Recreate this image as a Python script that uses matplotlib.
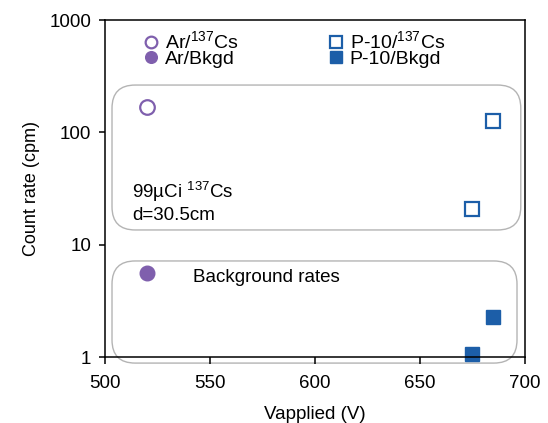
import numpy as np
import matplotlib
matplotlib.use("Agg")
import matplotlib.pyplot as plt
from matplotlib.patches import FancyBboxPatch

plt.rcParams.update({
    "font.family": "Liberation Sans",
    "mathtext.fontset": "custom",
    "mathtext.rm": "Liberation Sans",
    "mathtext.it": "Liberation Sans:italic",
})

# Daten
ar_cs_v = [520]
ar_cs_rate = [168]
ar_bkg_v = [520]
ar_bkg_rate = [5.6]
p10_cs_v = [675, 685]
p10_cs_rate = [20.8, 127]
p10_bkg_v = [675, 685]
p10_bkg_rate = [1.06, 2.27]

purple = "#7f5fad"
blue = "#1c5ea8"

fig = plt.figure(figsize=(5.48, 4.23), dpi=100)
ax = fig.add_axes([0.1916, 0.156, 0.7664, 0.7967])

ms = 10.5
ax.plot(ar_cs_v, ar_cs_rate, "o", ms=ms, mfc="none", mec=purple, mew=1.6,
        label=r"Ar/$^{137}$Cs", clip_on=False)
ax.plot(ar_bkg_v, ar_bkg_rate, "o", ms=ms, mfc=purple, mec=purple,
        label="Ar/Bkgd", clip_on=False)
ax.plot(p10_cs_v, p10_cs_rate, "s", ms=ms, mfc="none", mec=blue, mew=1.6,
        label=r"P-10/$^{137}$Cs", clip_on=False)
ax.plot(p10_bkg_v, p10_bkg_rate, "s", ms=ms, mfc=blue, mec=blue,
        label="P-10/Bkgd", clip_on=False)

ax.set_yscale("log")
ax.set_xlim(500, 700)
ax.set_ylim(1, 1000)
ax.set_xticks([500, 550, 600, 650, 700])
ax.set_yticks([1, 10, 100, 1000])
ax.set_yticklabels(["1", "10", "100", "1000"])
ax.minorticks_off()
ax.tick_params(axis="x", direction="out", length=5, width=1.1, pad=8, labelsize=13.5)
ax.tick_params(axis="y", direction="out", length=4, width=1.1, pad=6, labelsize=13.5)
for s in ax.spines.values():
    s.set_linewidth(1.1)

ax.set_xlabel("Vapplied (V)", fontsize=13.5, labelpad=10)
ax.set_ylabel("Count rate (cpm)", fontsize=13, labelpad=7)

# abgerundete Kaestchen
bb = ax.get_position()
w_px = bb.width * fig.get_figwidth()
h_px = bb.height * fig.get_figheight()
asp = w_px / h_px
for (x0, y0, x1, y1) in [(0.0167, 0.377, 0.990, 0.807), (0.0167, -0.018, 0.981, 0.285)]:
    box = FancyBboxPatch((x0, y0), x1 - x0, y1 - y0,
                         boxstyle="round,pad=0,rounding_size=0.055",
                         mutation_aspect=asp, transform=ax.transAxes,
                         fc="none", ec="#b4b4b4", lw=1.0, clip_on=False)
    ax.add_patch(box)

ax.text(0.064, 0.49, "99\u00b5Ci $^{137}$Cs", transform=ax.transAxes,
        fontsize=13.5, va="center")
ax.text(0.064, 0.42, "d=30.5cm", transform=ax.transAxes,
        fontsize=13.5, va="center")
ax.text(0.21, 0.236, "Background rates", transform=ax.transAxes,
        fontsize=13.5, va="center")

ax.legend(ncol=2, loc="upper left", bbox_to_anchor=(0.06, 1.015),
          frameon=False, fontsize=14, markerscale=0.8, handlelength=0.55,
          handletextpad=0.45, labelspacing=-0.1, columnspacing=4.7,
          borderpad=0.3)

plt.savefig("out.png", dpi=100)
